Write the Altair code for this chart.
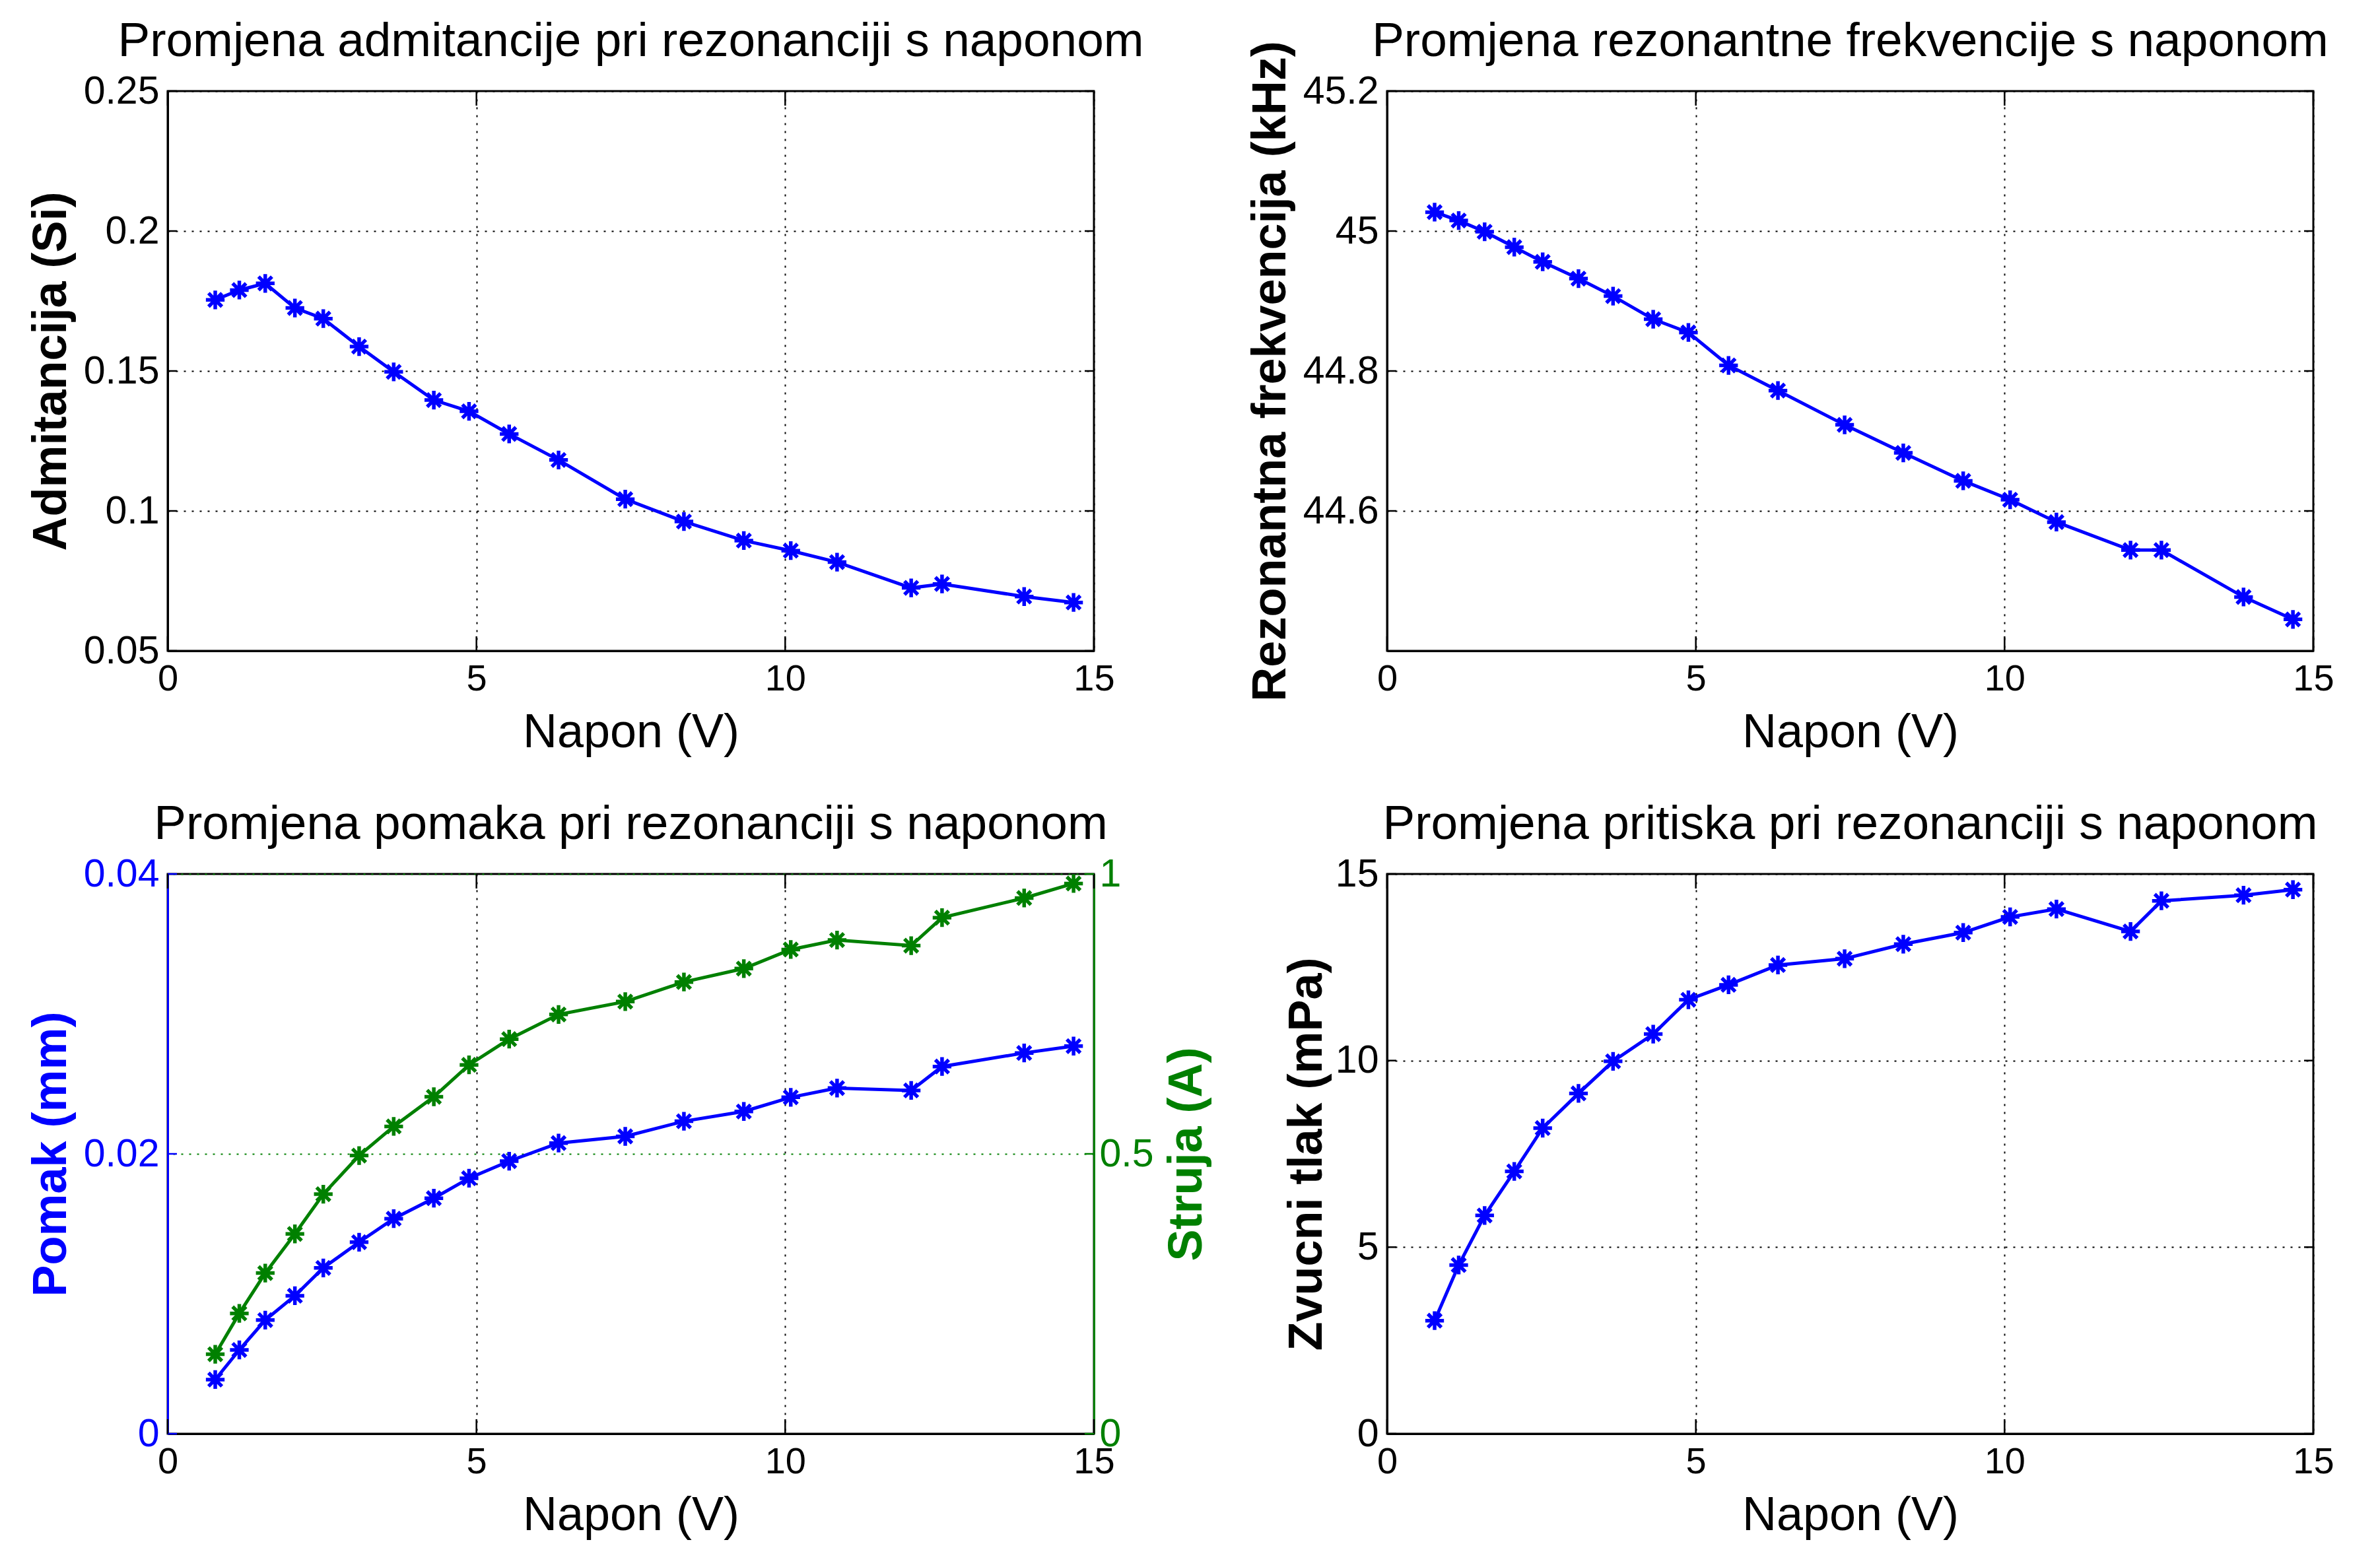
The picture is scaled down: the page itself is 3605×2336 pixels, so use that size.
import altair as alt
import pandas as pd

# ---------------- data ----------------
napon = [0.77, 1.16, 1.58, 2.06, 2.52, 3.10, 3.66, 4.31, 4.88, 5.53,
         6.33, 7.41, 8.36, 9.33, 10.09, 10.84, 12.04, 12.54, 13.87, 14.67]
admitancija = [0.1754, 0.1789, 0.1813, 0.1725, 0.1687, 0.1587, 0.1497, 0.1396, 0.1356, 0.1275,
               0.1182, 0.1042, 0.0962, 0.0894, 0.0858, 0.0817, 0.0725, 0.0739, 0.0694, 0.0673]
frekvencija = [45.027, 45.015, 44.999, 44.977, 44.956, 44.932, 44.907, 44.874, 44.855, 44.808,
               44.772, 44.723, 44.683, 44.643, 44.616, 44.584, 44.544, 44.544, 44.477, 44.445]
pomak = [0.00387, 0.00599, 0.00812, 0.00986, 0.01185, 0.01369, 0.01537, 0.01683, 0.01826, 0.01948,
         0.02077, 0.02125, 0.02233, 0.02303, 0.02404, 0.02470, 0.02453, 0.02624, 0.02721, 0.02770]
struja = [0.142, 0.215, 0.287, 0.357, 0.428, 0.497, 0.549, 0.602, 0.659, 0.705,
          0.749, 0.772, 0.807, 0.831, 0.865, 0.882, 0.872, 0.922, 0.957, 0.983]
tlak = [3.03, 4.52, 5.85, 7.03, 8.19, 9.12, 9.98, 10.71, 11.63, 12.03,
        12.56, 12.73, 13.12, 13.43, 13.85, 14.06, 13.46, 14.28, 14.43, 14.58]

x_ticks = [0, 5, 10, 15]
adm_ticks = [0.05, 0.1, 0.15, 0.2, 0.25]
frek_ticks = [44.6, 44.8, 45.0, 45.2]
pomak_ticks = [0, 0.02, 0.04]
struja_ticks = [0, 0.5, 1]
tlak_ticks = [0, 5, 10, 15]

x_domain = [0, 15]
adm_domain = [0.05, 0.25]
frek_domain = [44.4, 45.2]
pomak_domain = [0, 0.04]
struja_domain = [0, 1]
tlak_domain = [0, 15]

titles = [
    "Promjena admitancije pri rezonanciji s naponom",
    "Promjena rezonantne frekvencije s naponom",
    "Promjena pomaka pri rezonanciji s naponom",
    "Promjena pritiska pri rezonanciji s naponom",
]
x_title = "Napon (V)"
y_titles = ["Admitancija (Si)", "Rezonantna frekvencija (kHz)", "Pomak (mm)", "Struja (A)", "Zvucni tlak (mPa)"]

# ---------------- style ----------------
W, H = 1403, 848
BLUE = "#0000ff"
GREEN = "#008000"
FONT = "Liberation Sans"
ASTERISK = "M-1,0L1,0M0,-1L0,1M-0.72,-0.72L0.72,0.72M-0.72,0.72L0.72,-0.72"
YTICK = 14
XTICK = 22

df = pd.DataFrame({"napon": napon, "adm": admitancija, "frek": frekvencija,
                   "pomak": pomak, "struja": struja, "tlak": tlak})


def sc(domain):
    return alt.Scale(domain=domain, nice=False, zero=False)


XAXIS = alt.Axis(values=x_ticks, format="d", title=x_title, titleY=145,
                 titleBaseline="alphabetic", labelPadding=15, grid=True)


def y_axis(vals, title, orient="left", color="black", grid=True, title_x=-155, pad=13):
    return alt.Axis(values=vals, format="~g", title=title, orient=orient,
                    titleX=title_x, titleAngle=270, titleBaseline="alphabetic",
                    titleFontWeight="bold", titleFontSize=72, labelFontSize=59,
                    labelPadding=pad, grid=grid, gridColor=color,
                    labelColor=color, titleColor=color, domainColor=color)


def series(field, domain, yaxis, color):
    ex = alt.X("napon:Q", scale=sc(x_domain), axis=XAXIS)
    ey = alt.Y(f"{field}:Q", scale=sc(domain), axis=yaxis)
    line = alt.Chart(df).mark_line(color=color, strokeWidth=5).encode(x=ex, y=ey)
    pts = alt.Chart(df).mark_point(shape=ASTERISK, size=800, filled=False, strokeWidth=5.5,
                                   color=color, opacity=1).encode(x=ex, y=ey)
    return [line, pts]


def ytick_rules(vals, domain, yaxis, color, side="both"):
    d = pd.DataFrame({"v": vals})
    out = []
    for name, a, b in [("left", 0, YTICK), ("right", W - YTICK, W)]:
        if side in (name, "both"):
            out.append(alt.Chart(d).mark_rule(color=color, strokeWidth=2.5).encode(
                y=alt.Y("v:Q", scale=sc(domain), axis=yaxis),
                x=alt.value(a), x2=alt.value(b)))
    return out


def xtick_rules():
    d = pd.DataFrame({"v": x_ticks})
    out = []
    for a, b in [(H, H - XTICK), (0, XTICK)]:
        out.append(alt.Chart(d).mark_rule(color="black", strokeWidth=2.5).encode(
            x=alt.X("v:Q", scale=sc(x_domain), axis=XAXIS),
            y=alt.value(a), y2=alt.value(b)))
    return out


def title_mark(t):
    return alt.Chart(pd.DataFrame({"t": [t]})).mark_text(
        font=FONT, fontSize=73, baseline="alphabetic", align="center", color="black"
    ).encode(text="t:N", x=alt.value(W / 2), y=alt.value(-53))


ax_tl = y_axis(adm_ticks, y_titles[0])
tl = alt.layer(
    *series("adm", adm_domain, ax_tl, BLUE),
    *ytick_rules(adm_ticks, adm_domain, ax_tl, "black"),
    *xtick_rules(),
    title_mark(titles[0]),
).properties(width=W, height=H)

ax_tr = y_axis(frek_ticks, y_titles[1])
tr = alt.layer(
    *series("frek", frek_domain, ax_tr, BLUE),
    *ytick_rules(frek_ticks, frek_domain, ax_tr, "black"),
    *xtick_rules(),
    title_mark(titles[1]),
).properties(width=W, height=H)

ax_bl = y_axis(pomak_ticks, y_titles[2], color=BLUE, grid=False)
ax_bl2 = y_axis(struja_ticks, y_titles[3], orient="right", color=GREEN, grid=True,
                title_x=162, pad=8)
blue_group = alt.layer(
    *series("pomak", pomak_domain, ax_bl, BLUE),
    *ytick_rules(pomak_ticks, pomak_domain, ax_bl, BLUE, side="left"),
    *xtick_rules(),
    title_mark(titles[2]),
)
green_group = alt.layer(
    *series("struja", struja_domain, ax_bl2, GREEN),
    *ytick_rules(struja_ticks, struja_domain, ax_bl2, GREEN, side="right"),
)
bl = alt.layer(blue_group, green_group).resolve_scale(y="independent").properties(
    width=W, height=H)

ax_br = y_axis(tlak_ticks, y_titles[4], title_x=-100)
br = alt.layer(
    *series("tlak", tlak_domain, ax_br, BLUE),
    *ytick_rules(tlak_ticks, tlak_domain, ax_br, "black"),
    *xtick_rules(),
    title_mark(titles[3]),
).properties(width=W, height=H)

chart = alt.concat(tl, tr, bl, br, columns=2, spacing={"row": 338, "column": 444},
                   bounds="flush").properties(
    padding={"left": 31, "top": 17, "right": 10, "bottom": 0},
    background="white",
).configure_view(
    stroke="black", strokeWidth=3,
).configure_axis(
    labelFont=FONT, labelFontSize=56, labelColor="black", labelFlush=False, labelOverlap=False,
    titleFont=FONT, titleFontSize=72, titleFontWeight="normal", titleColor="black",
    ticks=False, domainColor="black", domainWidth=3,
    gridColor="black", gridDash=[3, 9], gridWidth=2, gridOpacity=1,
)

chart.save("out.html", embed_options={"renderer": "svg", "actions": False})
